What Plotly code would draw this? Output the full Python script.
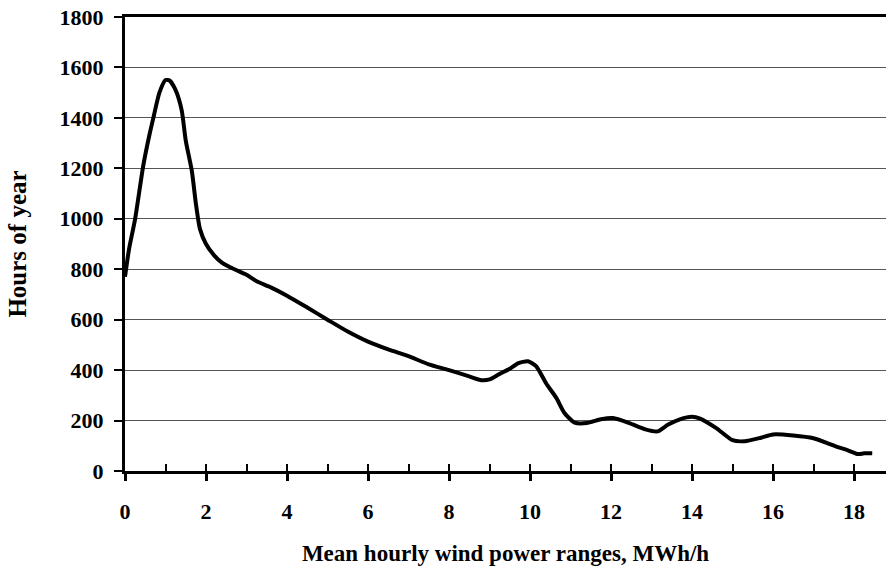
import plotly.graph_objects as go

# Mean hourly wind power ranges (MWh/h)
power_mwh = [0, 0.1, 0.25, 0.45, 0.6, 0.7, 0.85, 1.0, 1.1, 1.25, 1.4, 1.5, 1.65, 1.75, 1.85,
             2.0, 2.2, 2.4, 2.7, 3.0, 3.25, 3.6, 4.0, 4.5, 5.0, 5.5, 6.0, 6.5, 7.0, 7.5,
             8.0, 8.5, 8.8, 9.0, 9.25, 9.5, 9.7, 9.95, 10.15, 10.4, 10.65, 10.85, 11.1,
             11.4, 11.75, 12.05, 12.45, 12.85, 13.15, 13.4, 13.7, 14.0, 14.2, 14.6, 15.0,
             15.3, 15.7, 16.0, 16.5, 17.0, 17.35, 17.6, 17.85, 18.1, 18.25, 18.45]
# Hours of year
hours = [770, 880, 1000, 1210, 1330, 1400, 1500, 1550, 1548, 1510, 1430, 1310, 1190, 1060, 960,
         900, 855, 825, 800, 778, 752, 728, 695, 648, 600, 553, 513, 482, 455, 423,
         400, 375, 360, 363, 385, 405, 427, 435, 416, 347, 290, 230, 192,
         190, 205, 210, 190, 165, 157, 183, 205, 215, 208, 170, 122,
         118, 132, 145, 141, 130, 110, 95, 82, 67, 70, 70]

x_ticks = [0, 2, 4, 6, 8, 10, 12, 14, 16, 18]
y_ticks = [0, 200, 400, 600, 800, 1000, 1200, 1400, 1600, 1800]

FONT = "'Liberation Serif', 'Times New Roman', serif"
x_range = [0, 18.79]

fig = go.Figure()
fig.add_trace(go.Scatter(
    x=power_mwh, y=hours, mode="lines",
    line=dict(color="black", width=4, shape="spline", smoothing=0.6),
    showlegend=False, hoverinfo="x+y",
))
# invisible trace for secondary x axis (inside ticks)
fig.add_trace(go.Scatter(x=[0], y=[0], xaxis="x2", mode="markers",
                         marker=dict(opacity=0), showlegend=False, hoverinfo="skip"))

fig.update_layout(
    width=886, height=566,
    margin=dict(l=125, r=0, t=17, b=95, autoexpand=False),
    paper_bgcolor="white", plot_bgcolor="white",
    font=dict(family=FONT, color="black"),
    xaxis=dict(
        range=x_range, tickvals=x_ticks, ticktext=[str(v) for v in x_ticks],
        ticks="outside", ticklen=7, tickwidth=3, tickcolor="black",
        showline=True, linewidth=3, linecolor="black", mirror=True,
        showgrid=False, zeroline=False,
        tickfont=dict(family=FONT, size=22, color="black", weight="bold"),
        ticklabelstandoff=12,
        title=dict(text="<b>Mean hourly wind power ranges, MWh/h</b>",
                   font=dict(family=FONT, size=23, color="black"), standoff=22),
    ),
    xaxis2=dict(
        range=x_range, overlaying="x", anchor="y", side="bottom",
        dtick=1, tick0=0, ticks="inside", ticklen=7, tickwidth=2, tickcolor="black",
        showticklabels=False, showgrid=False, zeroline=False, showline=False,
    ),
    yaxis=dict(
        range=[0, 1800], tickvals=y_ticks, ticktext=[str(v) for v in y_ticks],
        ticks="outside", ticklen=8, tickwidth=2, tickcolor="black",
        showline=True, linewidth=3, linecolor="black",
        showgrid=True, gridcolor="#555555", gridwidth=1, zeroline=False,
        tickfont=dict(family=FONT, size=22, color="black", weight="bold"),
        ticklabelstandoff=6,
        title=dict(text="<b>Hours of year</b>",
                   font=dict(family=FONT, size=25, color="black"), standoff=26),
    ),
)

fig.write_html("out.html", config={"displayModeBar": False},
               post_script="document.body.style.margin='0px';")
